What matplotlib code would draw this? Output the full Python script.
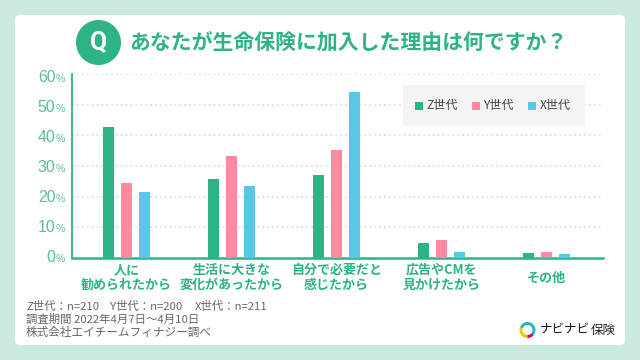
import matplotlib
matplotlib.use("Agg")
import matplotlib.pyplot as plt
import numpy as np
from matplotlib.patches import Circle, FancyBboxPatch, Rectangle, Wedge

plt.rcParams["font.family"] = ["Noto Sans CJK JP", "DejaVu Sans"]

GREEN = "#2eb386"
PINK = "#ff8a9f"
BLUE = "#58c7e8"
BG = "#cbeadf"
GRID = "#cbeadf"

categories = ["人に\n勧められたから", "生活に大きな\n変化があったから", "自分で必要だと\n感じたから",
              "広告やCMを\n見かけたから", "その他"]
z_gen = [42.8, 25.6, 27.1, 4.9, 1.6]
y_gen = [24.5, 33.3, 35.3, 5.9, 2.0]
x_gen = [21.5, 23.6, 54.2, 2.0, 1.3]
yticks = [0, 10, 20, 30, 40, 50, 60]
series = [("Z世代", z_gen, GREEN), ("Y世代", y_gen, PINK), ("X世代", x_gen, BLUE)]

W, H = 640, 360
fig = plt.figure(figsize=(6.4, 3.6), dpi=100, facecolor=BG)

# overlay in pixel coordinates for the card, title and notes
bg = fig.add_axes([0, 0, 1, 1], zorder=0)
bg.set_xlim(0, W)
bg.set_ylim(H, 0)
bg.axis("off")
bg.add_patch(FancyBboxPatch((19, 19), 602, 322, boxstyle="round,pad=4,rounding_size=4",
                            fc="white", ec="none"))

# chart axes
left, right, top, bottom = 72, 603, 74, 258
ax = fig.add_axes([left / W, 1 - bottom / H, (right - left) / W, (bottom - top) / H], zorder=1)
ax.patch.set_alpha(0)
ax.set_xlim((left - 126.5) / 105, (right - 126.5) / 105)
ax.set_ylim(0, 60)
x = np.arange(len(categories))
for i, (name, vals, col) in enumerate(series):
    ax.bar(x + (i - 1) * 18 / 105, vals, width=11 / 105, color=col, zorder=3)
ax.set_yticks(yticks[1:])
ax.grid(axis="y", color=GRID, lw=1.3, linestyle=(0, (1.1, 1.6)), zorder=1)
ax.set_axisbelow(True)
ax.tick_params(length=0, labelleft=False, labelbottom=False)
for s in ["top", "right"]:
    ax.spines[s].set_visible(False)
ax.spines["left"].set_color(GREEN)
ax.spines["left"].set_linewidth(1.3)
ax.spines["bottom"].set_color(GREEN)
ax.spines["bottom"].set_linewidth(1.8)

fg = fig.add_axes([0, 0, 1, 1], zorder=2)
fg.set_xlim(0, W)
fg.set_ylim(H, 0)
fg.axis("off")

# title
fg.add_patch(Circle((98.5, 42.5), 22.5, fc=GREEN, ec="none"))
fg.text(98.5, 43, "Q", color="white", fontsize=18, fontweight="bold", ha="center", va="center",
        family="Roboto")
fg.text(129, 43, "あなたが生命保険に加入した理由は何ですか？", color=GREEN, fontsize=15,
        fontweight="bold", ha="left", va="center")

# y labels, evenly spaced a bit differently from the gridlines
for v in yticks:
    py = 258 - v * 3
    fg.text(55.5, py, str(v), color="#5fbd9c", fontsize=11.4, ha="right", va="center",
            family="Liberation Sans")
    fg.text(55.5, py + 1, "%", color="#5fbd9c", fontsize=7.6, ha="left", va="center",
            family="Liberation Sans")

# category labels
for i, lab in enumerate(categories):
    fg.text(126.5 + 105 * i, 277.5, lab, color=GREEN, fontsize=9.4, fontweight="bold",
            ha="center", va="center", linespacing=1.15)

# legend
fg.add_patch(Rectangle((403, 85), 182, 41, fc="#f4f4f4", ec="none"))
for (name, vals, col), sx in zip(series, [415, 472, 528]):
    fg.add_patch(Rectangle((sx, 102), 8, 8, fc=col, ec="none"))
    fg.text(sx + 11.5, 105.5, name, color="#444444", fontsize=8.7, ha="left", va="center")

# notes
NOTE = "#666666"
fg.text(26, 306, "Z世代：n=210", color=NOTE, fontsize=8.2, va="center")
fg.text(110, 306, "Y世代：n=200", color=NOTE, fontsize=8.2, va="center")
fg.text(195, 306, "X世代：n=211", color=NOTE, fontsize=8.2, va="center")
fg.text(26, 319, "調査期間 2022年4月7日～4月10日", color=NOTE, fontsize=8.2, va="center")
fg.text(26, 332, "株式会社エイチームフィナジー調べ", color=NOTE, fontsize=8.35, va="center")

# logo
lx, ly = 527.5, 330
fg.add_patch(Wedge((lx, ly), 8, 90, 200, width=3, fc="#f7c500", ec="none"))
fg.add_patch(Wedge((lx, ly), 8, 200, 400, width=3, fc="#1fb8c8", ec="none"))
fg.add_patch(Wedge((lx, ly), 8, 40, 90, width=3, fc="#d6006e", ec="none"))
fg.text(540, 329, "ナビナビ", color="#111111", fontsize=9.0, ha="left", va="center")
fg.text(591, 330, "保険", color="#222222", fontsize=9.0, ha="left", va="center")

fig.savefig("out.png", dpi=100, facecolor=BG)
